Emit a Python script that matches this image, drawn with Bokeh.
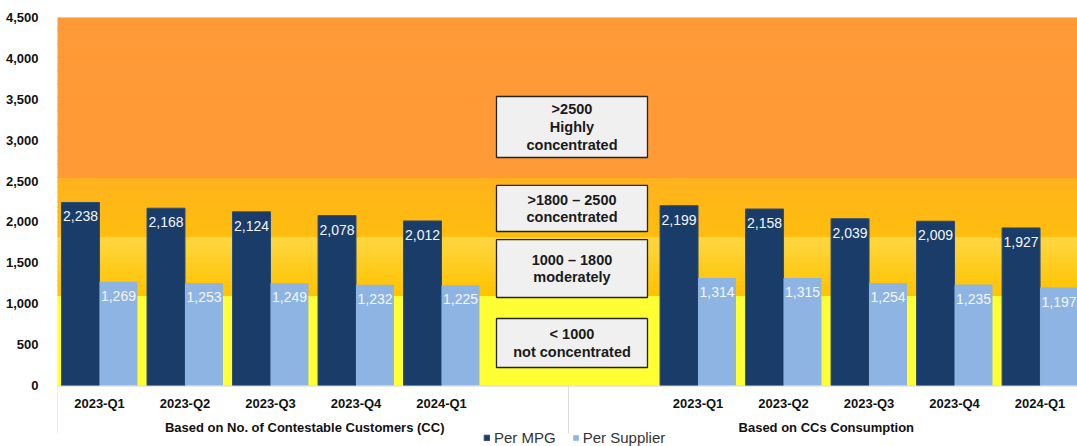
from bokeh.plotting import figure
from bokeh.models import (ColumnDataSource, Range1d, FixedTicker,
                          NumeralTickFormatter, Legend, LegendItem)
from bokeh.transform import dodge
from bokeh.core.properties import value
from bokeh.embed import file_html
from bokeh.resources import INLINE

# ---- data -------------------------------------------------------------
quarters = ["2023-Q1", "2023-Q2", "2023-Q3", "2023-Q4", "2024-Q1"]
groups = ["Based on No. of Contestable Customers (CC)", "Based on CCs Consumption"]
series = ["Per MPG", "Per Supplier"]

mpg_customers = [2238, 2168, 2124, 2078, 2012]
supplier_customers = [1269, 1253, 1249, 1232, 1225]
mpg_consumption = [2199, 2158, 2039, 2009, 1927]
supplier_consumption = [1314, 1315, 1254, 1235, 1197]

y_ticks = [0, 500, 1000, 1500, 2000, 2500, 3000, 3500, 4000, 4500]

# HHI concentration zones (bottom -> top)
zone_edges = [0, 1100, 1820, 2545, 4500]
zone_texts = ["< 1000\nnot concentrated",
              "1000 \u2013 1800\nmoderately",
              ">1800 \u2013 2500\nconcentrated",
              ">2500\nHighly\nconcentrated"]

# ---- styling / layout --------------------------------------------------
FONT = "Liberation Sans"
NAVY = "#1A3C69"
LIGHT_BLUE = "#8EB4E3"
SLOT_GAP = 7             # slot index where the second group starts
BAR_W = 0.444
PX = 4500 / 368          # data units per screen pixel on the value axis
zone_colors = [("#FFFF33", "#FFFF33"),
               ("#FFC300", "#FFD63F"),
               ("#FFBD0D", "#FFB21D"),
               ("#FF9A36", "#FF9A36")]
box_x = (4.643, 6.409)
box_y = [(220, 819), (1076, 1785), (1883, 2446), (2788, 3534)]
group_centers = [2.4, 8.5]
group_dividers = [-0.491, 5.485]

xs = [g * SLOT_GAP + i for g in range(len(groups)) for i in range(len(quarters))]
mpg = mpg_customers + mpg_consumption
sup = supplier_customers + supplier_consumption
src = ColumnDataSource(dict(
    x=xs, mpg=mpg, sup=sup,
    quarter=[quarters[i % len(quarters)] for i in range(len(xs))],
    mpg_lbl=[f"{v:,}" for v in mpg],
    sup_lbl=[f"{v:,}" for v in sup],
))

x_lo, x_hi = -0.491, 11.438
y_lo = -61 * PX
p = figure(width=1077, height=446, output_backend="svg", toolbar_location=None,
           x_range=Range1d(x_lo, x_hi), y_range=Range1d(y_lo, 4500),
           x_axis_type=None, min_border_left=57, min_border_right=0,
           min_border_top=17, min_border_bottom=0)
p.outline_line_color = None
p.ygrid.visible = False
p.background_fill_color = "white"


def hexrgb(h):
    return tuple(int(h[i:i + 2], 16) for i in (1, 3, 5))


# zone bands, drawn as thin strips to shade each band
for (lo, hi), (c_lo, c_hi) in zip(zip(zone_edges[:-1], zone_edges[1:]), zone_colors):
    steps = 12
    a, b = hexrgb(c_lo), hexrgb(c_hi)
    bottoms, tops, cols = [], [], []
    for k in range(steps):
        t = k / (steps - 1)
        rgb = tuple(round(a[j] + (b[j] - a[j]) * t) for j in range(3))
        bottoms.append(lo + (hi - lo) * k / steps)
        tops.append(lo + (hi - lo) * (k + 1) / steps)
        cols.append("#%02X%02X%02X" % rgb)
    p.quad(left=x_lo - 1, right=x_hi + 1, bottom=bottoms, top=tops,
           fill_color=cols, line_color=cols, line_width=1)

r_mpg = p.vbar(x=dodge("x", -BAR_W / 2, range=p.x_range), top="mpg", width=BAR_W,
               source=src, fill_color=NAVY, line_color="#2C4C78", line_width=1)
r_sup = p.vbar(x=dodge("x", BAR_W / 2, range=p.x_range), top="sup", width=BAR_W,
               source=src, fill_color=LIGHT_BLUE, line_color=None)

# category axis line and group dividers
p.segment(x0=x_lo, x1=x_hi + 1, y0=-0.6 * PX, y1=-0.6 * PX,
          line_color="#D9D9D9", line_width=1)
p.segment(x0=group_dividers, x1=group_dividers, y0=[0] * 2, y1=[-48 * PX] * 2,
          line_color="#D9D9D9", line_width=1)

p.text(x=dodge("x", -BAR_W / 2, range=p.x_range), y="mpg", text="mpg_lbl", source=src,
       text_align="center", text_baseline="top", y_offset=9,
       text_font=value(FONT), text_font_size="14px", text_color="#F4F7FB")
p.text(x=dodge("x", BAR_W / 2, range=p.x_range), y="sup", text="sup_lbl", source=src,
       text_align="center", text_baseline="top", y_offset=9,
       text_font=value(FONT), text_font_size="14px", text_color="#F4F7FB")

# zone caption boxes
p.quad(left=box_x[0], right=box_x[1],
       bottom=[b for b, _ in box_y], top=[t for _, t in box_y],
       fill_color="#F0F0F0", line_color="#262626", line_width=1.3)
p.text(x=[(box_x[0] + box_x[1]) / 2] * len(box_y),
       y=[(b + t) / 2 for b, t in box_y], text=zone_texts,
       text_align="center", text_baseline="middle", text_line_height=1.12,
       text_font=value(FONT), text_font_size="14.5px", text_font_style="bold",
       text_color="#1A1A1A")

# category and group labels under the bars
p.text(x="x", y=0, text="quarter", source=src, text_align="center",
       text_baseline="middle", y_offset=18, text_font=value(FONT),
       text_font_size="13px", text_font_style="bold", text_color="#111111")
p.text(x=group_centers, y=[0, 0], text=groups, text_align="center",
       text_baseline="middle", y_offset=42, text_font=value(FONT),
       text_font_size="13px", text_font_style="bold", text_color="#111111")

# y axis
p.yaxis.ticker = FixedTicker(ticks=y_ticks)
p.yaxis.formatter = NumeralTickFormatter(format="0,0")
p.yaxis.axis_line_color = None
p.yaxis.major_tick_line_color = None
p.yaxis.minor_tick_line_color = None
p.yaxis.major_label_standoff = 13
p.yaxis.major_label_text_font = FONT
p.yaxis.major_label_text_font_size = "13px"
p.yaxis.major_label_text_font_style = "bold"
p.yaxis.major_label_text_color = "#111111"

legend = Legend(items=[LegendItem(label=series[0], renderers=[r_mpg]),
                       LegendItem(label=series[1], renderers=[r_sup])],
                orientation="horizontal", location=(426, 0),
                glyph_width=7, glyph_height=7, label_standoff=4, spacing=16,
                padding=0, margin=0, border_line_color=None,
                background_fill_alpha=0, label_text_font=FONT,
                label_text_font_size="15px", label_text_color="#333333")
p.add_layout(legend)

open("out.html", "w").write(file_html(p, INLINE))
